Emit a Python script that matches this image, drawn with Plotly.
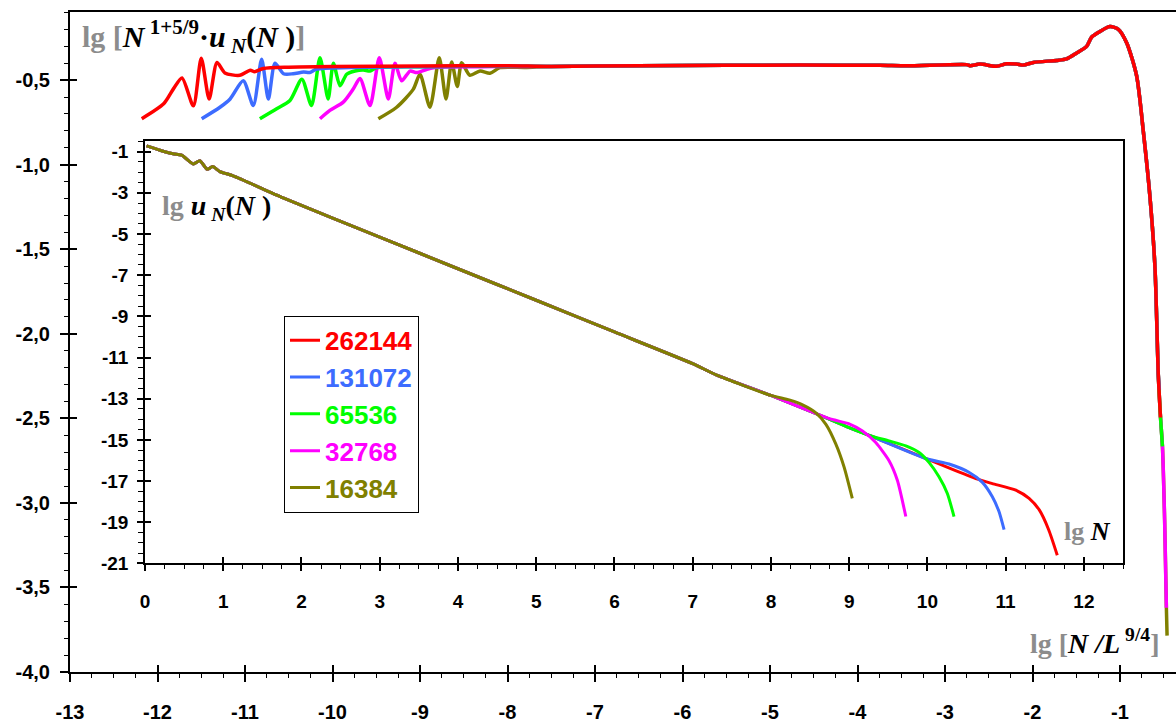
import plotly.graph_objects as go

# ---------------- data ----------------
SERIES = ["262144", "131072", "65536", "32768", "16384"]
COLORS = ["#ff0000", "#3d6cff", "#00ff00", "#ff00ff", "#808000"]

# main plot: lg[N/L^(9/4)]  vs  lg[N^(1+5/9) u_N(N)]  (heads read per series)
RED_HEAD_X = [-12.18, -11.93, -11.82, -11.72, -11.59, -11.50, -11.41, -11.32, -11.23, -11.06, -10.94, -10.89, -10.79, -10.5, -10.0, -9.0, -8.0]
RED_HEAD_Y = [-0.728, -0.64, -0.553, -0.487, -0.652, -0.37, -0.611, -0.395, -0.457, -0.471, -0.441, -0.45, -0.431, -0.423, -0.419, -0.416, -0.415]
BLUE_HEAD_X = [-11.495, -11.286, -11.17, -11.02, -10.905, -10.81, -10.733, -10.657, -10.56, -10.45, -10.33, -10.26, -10.18, -9.8, -9.0, -8.0]
BLUE_HEAD_Y = [-0.728, -0.66, -0.611, -0.504, -0.65, -0.377, -0.611, -0.40, -0.462, -0.462, -0.452, -0.455, -0.434, -0.425, -0.42, -0.416]
GREEN_HEAD_X = [-10.83, -10.638, -10.486, -10.35, -10.24, -10.143, -10.05, -9.99, -9.914, -9.838, -9.743, -9.648, -9.571, -9.495, -9.0, -8.0]
GREEN_HEAD_Y = [-0.728, -0.669, -0.62, -0.494, -0.65, -0.368, -0.611, -0.40, -0.533, -0.465, -0.446, -0.44, -0.446, -0.426, -0.42, -0.417]
MAGENTA_HEAD_X = [-10.143, -10.03, -9.877, -9.763, -9.686, -9.571, -9.465, -9.362, -9.286, -9.21, -9.114, -9.038, -8.943, -8.848, -8.3, -8.0]
MAGENTA_HEAD_Y = [-0.728, -0.679, -0.63, -0.552, -0.49, -0.65, -0.368, -0.611, -0.40, -0.504, -0.446, -0.455, -0.44, -0.426, -0.421, -0.419]
OLIVE_HEAD_X = [-9.476, -9.267, -9.076, -9.0, -8.886, -8.78, -8.703, -8.638, -8.574, -8.524, -8.43, -8.314, -8.2, -8.086, -7.8]
OLIVE_HEAD_Y = [-0.728, -0.66, -0.553, -0.465, -0.66, -0.368, -0.611, -0.393, -0.537, -0.397, -0.471, -0.446, -0.459, -0.426, -0.425]

# shared plateau / peak / drop (curves collapse here)
TAIL_X = [-7.5, -6.5, -5.5, -4.657, -3.743, -3.438, -2.752, -2.714, -2.6, -2.41, -2.295, -2.181, -2.105, -1.99, -1.723, -1.61, -1.495, -1.381, -1.323, -1.229, -1.114, -1.019, -0.923, -0.81, -0.733, -0.657, -0.6, -0.562]
TAIL_Y = [-0.419, -0.414, -0.412, -0.411, -0.412, -0.415, -0.408, -0.414, -0.405, -0.418, -0.403, -0.405, -0.411, -0.395, -0.383, -0.374, -0.339, -0.300, -0.245, -0.212, -0.183, -0.199, -0.280, -0.475, -0.805, -1.194, -1.611, -2.247]
# last points of each series on the steep drop
RED_END_X, RED_END_Y = [-0.537], [-2.495]
BLUE_END_X, BLUE_END_Y = [-0.55], [-2.33]
GREEN_END_X, GREEN_END_Y = [-0.537, -0.515], [-2.495, -2.665]
MAGENTA_END_X, MAGENTA_END_Y = [-0.537, -0.515, -0.49, -0.47], [-2.495, -2.665, -3.1, -3.62]
OLIVE_END_X, OLIVE_END_Y = [-0.537, -0.515, -0.49, -0.47, -0.462], [-2.495, -2.665, -3.1, -3.62, -3.785]

# inset: lg N vs lg u_N(N)
INSET_COMMON_X = [0.02, 0.191, 0.361, 0.468, 0.617, 0.702, 0.795, 0.864, 0.957, 1.127, 1.766, 3.0, 4.0, 5.0, 6.0, 7.0, 7.3, 8.0]
INSET_COMMON_Y = [-0.727, -0.938, -1.11, -1.177, -1.607, -1.445, -1.861, -1.732, -1.971, -2.18, -3.249, -5.15, -6.69, -8.22, -9.76, -11.30, -11.84, -12.84]
INSET_RED_X = [8.617, 9.0, 9.277, 10.0, 10.36, 10.66, 10.83, 11.13, 11.30, 11.43, 11.55, 11.66]
INSET_RED_Y = [-13.78, -14.40, -14.81, -15.93, -16.49, -16.93, -17.12, -17.44, -17.84, -18.40, -19.36, -20.60]
INSET_BLUE_X = [8.617, 9.0, 9.277, 10.0, 10.277, 10.53, 10.70, 10.83, 10.915, 10.98]
INSET_BLUE_Y = [-13.78, -14.40, -14.81, -15.93, -16.17, -16.57, -17.05, -17.76, -18.48, -19.36]
INSET_GREEN_X = [8.617, 9.0, 9.277, 9.51, 9.724, 9.894, 10.02, 10.15, 10.255, 10.34]
INSET_GREEN_Y = [-13.78, -14.40, -14.81, -15.05, -15.29, -15.61, -16.09, -16.80, -17.60, -18.72]
INSET_MAGENTA_X = [8.617, 8.787, 9.0, 9.17, 9.34, 9.51, 9.617, 9.724]
INSET_MAGENTA_Y = [-13.78, -14.01, -14.22, -14.57, -15.13, -16.01, -16.97, -18.72]
INSET_OLIVE_X = [8.234, 8.405, 8.575, 8.703, 8.83, 8.936, 9.04]
INSET_OLIVE_Y = [-13.06, -13.30, -13.69, -14.25, -15.21, -16.33, -17.84]

# ticks
MAIN_X_TICKS = [-13, -12, -11, -10, -9, -8, -7, -6, -5, -4, -3, -2, -1]
MAIN_X_LABELS = ["-13", "-12", "-11", "-10", "-9", "-8", "-7", "-6", "-5", "-4", "-3", "-2", "-1"]
MAIN_Y_TICKS = [-4.0, -3.5, -3.0, -2.5, -2.0, -1.5, -1.0, -0.5]
MAIN_Y_LABELS = ["-4,0", "-3,5", "-3,0", "-2,5", "-2,0", "-1,5", "-1,0", "-0,5"]
INSET_X_TICKS = [0, 1, 2, 3, 4, 5, 6, 7, 8, 9, 10, 11, 12]
INSET_X_LABELS = ["0", "1", "2", "3", "4", "5", "6", "7", "8", "9", "10", "11", "12"]
INSET_Y_TICKS = [-21, -19, -17, -15, -13, -11, -9, -7, -5, -3, -1]
INSET_Y_LABELS = ["-21", "-19", "-17", "-15", "-13", "-11", "-9", "-7", "-5", "-3", "-1"]

# ---------------- figure ----------------
W, H = 1176, 723
ML, MR, MT, MB = 70, 0, 12, 42
PW, PH = W - ML - MR, H - MT - MB


def px_x(p):
    return (p - ML) / PW


def px_y(p):
    return (H - MB - p) / PH


def bold(labels):
    return [f"<b>{s}</b>" for s in labels]


SANS = "Liberation Sans, Arial, sans-serif"
SERIF = "Liberation Serif, Times New Roman, serif"
GRAY = "#8c8c8c"

fig = go.Figure()

main = [
    (RED_HEAD_X, RED_HEAD_Y, RED_END_X, RED_END_Y),
    (BLUE_HEAD_X, BLUE_HEAD_Y, BLUE_END_X, BLUE_END_Y),
    (GREEN_HEAD_X, GREEN_HEAD_Y, GREEN_END_X, GREEN_END_Y),
    (MAGENTA_HEAD_X, MAGENTA_HEAD_Y, MAGENTA_END_X, MAGENTA_END_Y),
    (OLIVE_HEAD_X, OLIVE_HEAD_Y, OLIVE_END_X, OLIVE_END_Y),
]
# main: olive drawn first, red on top
for i in reversed(range(5)):
    hx, hy, ex, ey = main[i]
    fig.add_trace(go.Scatter(
        x=hx + TAIL_X + ex, y=hy + TAIL_Y + ey, mode="lines",
        line=dict(color=COLORS[i], width=3.5, shape="spline", smoothing=0.7),
        xaxis="x", yaxis="y", showlegend=False, hoverinfo="skip"))

inset = [
    (INSET_RED_X, INSET_RED_Y),
    (INSET_BLUE_X, INSET_BLUE_Y),
    (INSET_GREEN_X, INSET_GREEN_Y),
    (INSET_MAGENTA_X, INSET_MAGENTA_Y),
    (INSET_OLIVE_X, INSET_OLIVE_Y),
]
for i in range(5):
    tx, ty = inset[i]
    fig.add_trace(go.Scatter(
        x=INSET_COMMON_X + tx, y=INSET_COMMON_Y + ty, mode="lines",
        line=dict(color=COLORS[i], width=3, shape="spline", smoothing=0.6),
        xaxis="x2", yaxis="y2",
        name=f"<b><span style='color:{COLORS[i]}'>{SERIES[i]}</span></b>",
        showlegend=True, hoverinfo="skip"))

# empty traces so the crossing-tick overlay axes are drawn
fig.add_trace(go.Scatter(x=[None], y=[None], xaxis="x3", yaxis="y3", showlegend=False))
fig.add_trace(go.Scatter(x=[None], y=[None], xaxis="x4", yaxis="y4", showlegend=False))

MAIN_XR = [-13, -13 + PW / 87.5]
MAIN_YR = [-4.0, -4.0 + PH / 171.4]
IN_XR = [0, 12.5]
IN_YR = [-21, -0.5]

tick_font_main = dict(family=SANS, size=20, color="black", weight="bold")
tick_font_in = dict(family=SANS, size=19, color="black", weight="bold")

common_ax = dict(showgrid=False, zeroline=False, tickcolor="black", fixedrange=True)

fig.update_layout(
    width=W, height=H,
    margin=dict(l=ML, r=MR, t=MT, b=MB),
    paper_bgcolor="white", plot_bgcolor="white",
    xaxis=dict(range=MAIN_XR, domain=[0, 1], anchor="y", showline=True, linecolor="black",
               linewidth=2, mirror=True, ticks="outside", ticklen=8, tickwidth=1.5,
               tickvals=MAIN_X_TICKS, ticktext=bold(MAIN_X_LABELS), tickfont=tick_font_main,
               ticklabelstandoff=13,
               minor=dict(ticks="outside", ticklen=4, tickwidth=1.2, dtick=0.25, tick0=-13,
                          tickcolor="black"), **common_ax),
    yaxis=dict(range=MAIN_YR, domain=[0, 1], anchor="x", showline=True, linecolor="black",
               linewidth=2, mirror=False, ticks="outside", ticklen=8, tickwidth=1.5,
               tickvals=MAIN_Y_TICKS, ticktext=bold(MAIN_Y_LABELS), tickfont=tick_font_main,
               ticklabelstandoff=6,
               minor=dict(ticks="outside", ticklen=4, tickwidth=1.2, dtick=0.1, tick0=-4,
                          tickcolor="black"), **common_ax),
    xaxis3=dict(range=MAIN_XR, overlaying="x", anchor="y3", showline=False, ticks="inside",
                ticklen=7, tickwidth=1.5, tickvals=MAIN_X_TICKS, showticklabels=False, **common_ax),
    yaxis3=dict(range=MAIN_YR, overlaying="y", anchor="x3", side="left", showline=False,
                ticks="inside", ticklen=7, tickwidth=1.5, tickvals=MAIN_Y_TICKS,
                showticklabels=False, **common_ax),
    xaxis2=dict(range=IN_XR, domain=[px_x(145), px_x(1123)], anchor="y2", showline=True,
                linecolor="black", linewidth=1.5, mirror=True, ticks="outside", ticklen=6,
                tickwidth=1.5, tickvals=INSET_X_TICKS, ticktext=bold(INSET_X_LABELS),
                tickfont=tick_font_in, ticklabelstandoff=14,
                minor=dict(ticks="outside", ticklen=4, tickwidth=1.2, dtick=0.25, tick0=0,
                           tickcolor="black"), **common_ax),
    yaxis2=dict(range=IN_YR, domain=[px_y(571), px_y(143)], anchor="x2", showline=True,
                linecolor="black", linewidth=1.5, mirror=True, ticks="outside", ticklen=6,
                tickwidth=1.5, tickvals=INSET_Y_TICKS, ticktext=bold(INSET_Y_LABELS),
                tickfont=tick_font_in, ticklabelstandoff=5,
                minor=dict(ticks="outside", ticklen=5, tickwidth=1.2, dtick=0.5, tick0=-21,
                           tickcolor="black"), **common_ax),
    xaxis4=dict(range=IN_XR, overlaying="x2", anchor="y4", showline=False, ticks="inside",
                ticklen=6, tickwidth=1.5, tickvals=INSET_X_TICKS, showticklabels=False, **common_ax),
    yaxis4=dict(range=IN_YR, overlaying="y2", anchor="x4", side="left", showline=False,
                ticks="inside", ticklen=6, tickwidth=1.5, tickvals=INSET_Y_TICKS,
                showticklabels=False, **common_ax),
    legend=dict(x=px_x(284), y=px_y(320), xanchor="left", yanchor="top",
                bgcolor="white", bordercolor="black", borderwidth=1,
                font=dict(family=SANS, size=26, color="black"),
                itemwidth=30, tracegroupgap=0),
    showlegend=True,
)

title_font = dict(family=SERIF, color="black")
g = lambda s: f"<span style='color:{GRAY}'>{s}</span>"

fig.add_annotation(
    xref="paper", yref="paper", x=px_x(80), y=px_y(37), xanchor="left", yanchor="middle",
    text="<b>" + g("lg [") + "<i>N</i><sup> 1+5/9</sup>·<i>u</i><sub> <i>N</i></sub>(<i>N</i> )" + g("]") + "</b>",
    showarrow=False, font=dict(size=30, **title_font))
fig.add_annotation(
    xref="paper", yref="paper", x=px_x(1161), y=px_y(650), xanchor="right", yanchor="middle",
    text="<b>" + g("lg [") + "<i>N /L</i><sup> 9/4</sup>" + g("]") + "</b>",
    showarrow=False, font=dict(size=28, **title_font))
fig.add_annotation(
    xref="paper", yref="paper", x=px_x(160), y=px_y(210), xanchor="left", yanchor="middle",
    text="<b>" + g("lg ") + "<i>u</i><sub> <i>N</i></sub>(<i>N</i> )</b>",
    showarrow=False, font=dict(size=28, **title_font))
fig.add_annotation(
    xref="paper", yref="paper", x=px_x(1113), y=px_y(539), xanchor="right", yanchor="middle",
    text="<b>" + g("lg ") + "<i>N</i></b>",
    showarrow=False, font=dict(size=26, **title_font))

fig.write_html("out.html")
